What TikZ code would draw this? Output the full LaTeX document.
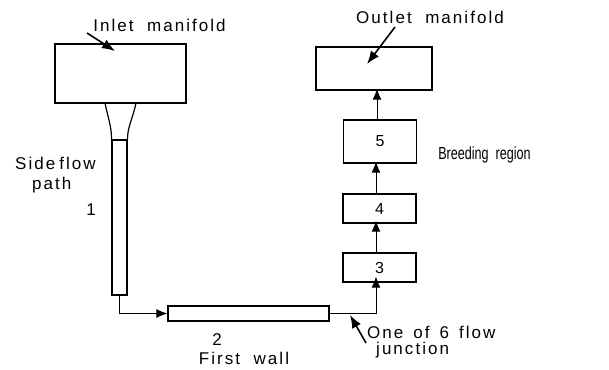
\documentclass[tikz,border=0pt]{standalone}
\usepackage{fontspec}
\setmainfont{Liberation Sans}
\newfontfamily\lsfont[LetterSpace=12]{Liberation Sans}
\newfontfamily\narrowfont[FakeStretch=0.72]{Liberation Sans}
\usetikzlibrary{arrows.meta,positioning}
\begin{document}
\begin{tikzpicture}[x=1pt,y=-1pt,
  box/.style={draw,line width=1.2pt,inner sep=0pt},
  lbl/.style={font=\lsfont\fontsize{17}{18}\selectfont,inner sep=0pt},
  num/.style={font=\fontsize{16}{17}\selectfont},
  arr/.style={line width=1pt,-{Latex[length=11pt,width=9pt]}},
  ptr/.style={line width=1.6pt,-{Latex[length=13pt,width=10pt]}}]
\useasboundingbox (0,0) rectangle (609,369);
% boxes
\node[box,minimum width=131pt,minimum height=59pt] (inlet) at (120.5,73.5) {};
\node[box,minimum width=116pt,minimum height=43pt] (outlet) at (374,68.5) {};
\node[box,minimum width=73pt,minimum height=43pt,num] (b5) at (380,141.5) {5};
\node[box,minimum width=73pt,minimum height=29pt,num] (b4) at (379.5,208.5) {4};
\node[box,minimum width=73pt,minimum height=29pt,num] (b3) at (379.5,267.5) {3};
\node[box,minimum width=161pt,minimum height=15pt] (b2) at (248.5,313.5) {};
% side flow tube with funnel
\node[box,minimum width=15pt,minimum height=155pt] (tube) at (119.5,217.5) {};
\draw[line width=1.2pt] (105,103) .. controls (108,118) and (112,128) .. (tube.north west);
\draw[line width=1.2pt] (136,103) .. controls (133,118) and (127,128) .. (tube.north east);
% flow connectors
\coordinate (c2) at (376,315);
\draw[arr] (tube.south) |- (b2.west);
\draw[arr] (b2.east) -- ++(20,0) -| ([yshift=6pt]b3.south -| c2);
\draw[arr] (b3.north -| c2) -- ([yshift=3pt]b4.south -| c2);
\draw[arr] (b4.north -| c2) -- ([yshift=2pt]b5.south -| c2);
\draw[arr] (b5.north -| 377,0) -- ([yshift=2pt]outlet.south -| 377,0);
% labels
\node[lbl] (tin) at (159.5,25) {Inlet\ \ manifold};
\draw[ptr] (87,33) -- (115,51);
\node[lbl] (tout) at (430,17) {Outlet\ \ manifold};
\draw[ptr] (395,27) -- (367,64);
\node[font=\narrowfont\fontsize{17.5}{18}\selectfont,inner sep=0pt] (tbr) at (484.5,155) {Breeding\ \ region};
\node[lbl,anchor=west] (tside) at (15,163) {Side\hskip4pt f\kern2pt l\kern2pt o\kern2pt w};
\node[lbl,anchor=west] (tpath) at (32,185) {path};
\node[lbl] (t1) at (91,210) {1};
\node[lbl] (t2) at (217,340) {2};
\node[lbl] (tfw) at (244,358) {First\ \ wall};
\node[lbl,anchor=west] (tj1) at (367,332) {One\hskip10pt of\hskip10pt 6\hskip10pt flow};
\node[lbl,anchor=west] (tj2) at (376,350) {junction};
\coordinate (jt) at (350,315);
\draw[ptr] (366,343) -- (jt);
\end{tikzpicture}
\end{document}
